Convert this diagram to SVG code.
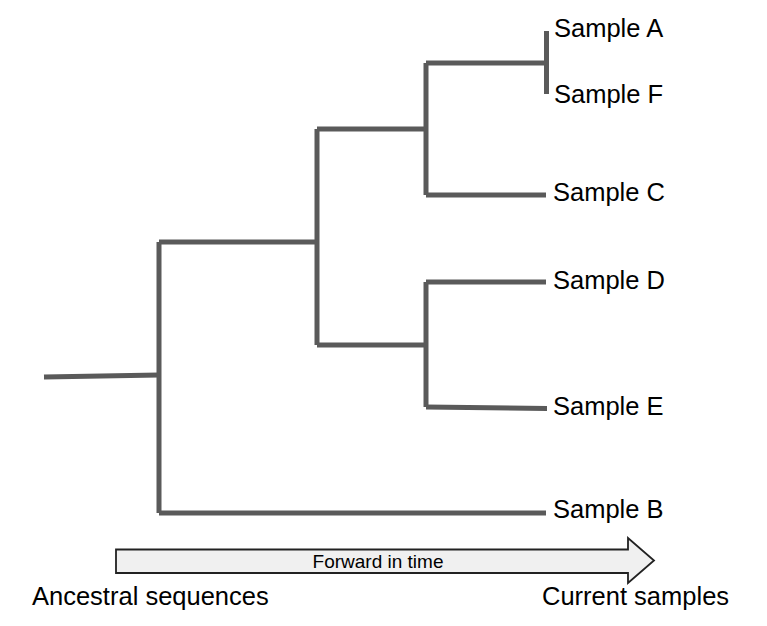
<svg xmlns="http://www.w3.org/2000/svg" width="767" height="626" viewBox="0 0 767 626">
<style>
.br{fill:none;stroke:#5a5a5a;stroke-width:5;stroke-linecap:butt;stroke-linejoin:miter}
.lbl{font-family:"Liberation Sans",Arial,sans-serif;font-size:25.5px;fill:#000}
.small{font-family:"Liberation Sans",Arial,sans-serif;font-size:19px;fill:#000;text-anchor:middle}
.arr{fill:#f0f0f0;stroke:#222;stroke-width:1.8;stroke-linejoin:miter}
</style>
<rect width="767" height="626" fill="#fff"/>
<g id="connectors">
<path class="br" d="M44,377 L159,375"/>
<path class="br" d="M159,242 L159,513"/>
<path class="br" d="M159,242 L317,242"/>
<path class="br" d="M159,513 L546,513"/>
<path class="br" d="M317,129 L317,345"/>
<path class="br" d="M317,129 L426,129"/>
<path class="br" d="M317,345 L426,345"/>
<path class="br" d="M426,63 L426,195"/>
<path class="br" d="M426,63 L546,63"/>
<path class="br" d="M426,195 L546,195"/>
<path class="br" d="M546.5,31 L546.5,94"/>
<path class="br" d="M426,282 L426,407"/>
<path class="br" d="M426,282 L546,282"/>
<path class="br" d="M426,407 L547,408.5"/>
</g>
<g id="sampleA"><text class="lbl" x="554" y="37">Sample A</text></g>
<g id="sampleF"><text class="lbl" x="554" y="103">Sample F</text></g>
<g id="sampleC"><text class="lbl" x="553" y="201">Sample C</text></g>
<g id="sampleD"><text class="lbl" x="553" y="289">Sample D</text></g>
<g id="sampleE"><text class="lbl" x="553" y="415">Sample E</text></g>
<g id="sampleB"><text class="lbl" x="553" y="518">Sample B</text></g>
<g id="timeArrow">
<path class="arr" d="M116,549.5 L628,549.5 L628,538 L654,560.5 L628,583 L628,573 L116,573 Z"/>
<text class="small" x="378" y="568">Forward in time</text>
</g>
<g id="ancestral"><text class="lbl" x="32" y="605">Ancestral sequences</text></g>
<g id="current"><text class="lbl" x="542" y="605">Current samples</text></g>
</svg>
